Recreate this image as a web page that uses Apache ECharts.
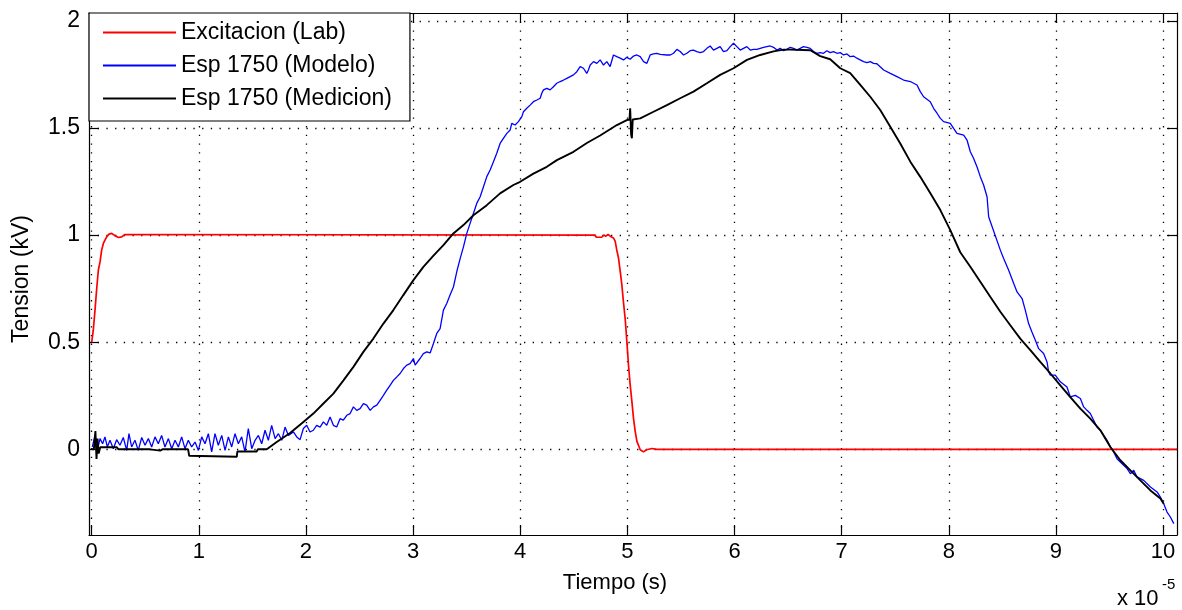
<!DOCTYPE html>
<html>
<head>
<meta charset="utf-8">
<title>Tension vs Tiempo</title>
<script src="https://cdn.jsdelivr.net/npm/echarts@6/dist/echarts.min.js"></script>
<style>
  html, body { margin: 0; padding: 0; background: #fff; }
  #chart { width: 1182px; height: 610px; }
</style>
</head>
<body>
<div id="chart"></div>
<script>
// tiempo en unidades de 1e-5 s, tension en kV
var xTicks = [0, 1, 2, 3, 4, 5, 6, 7, 8, 9, 10];
var yTicks = [0, 0.5, 1, 1.5, 2];
var seriesNames = ['Excitacion (Lab)', 'Esp 1750 (Modelo)', 'Esp 1750 (Medicion)'];

var excitacionLab = [
  [0, 0.499], [0.015, 0.556], [0.031, 0.65], [0.047, 0.751], [0.062, 0.836], [0.078, 0.875],
  [0.093, 0.93], [0.109, 0.961], [0.124, 0.977], [0.14, 0.992], [0.162, 1.005], [0.187, 1.008],
  [0.218, 0.997], [0.249, 0.989], [0.28, 0.992], [0.311, 1.003], [4.7, 1.0], [4.71, 0.99],
  [4.76, 0.99], [4.78, 1.0], [4.8, 0.995], [4.82, 1.003], [4.84, 0.995], [4.855, 0.998],
  [4.87, 0.987], [4.886, 0.972], [4.9, 0.933], [4.917, 0.894], [4.933, 0.832], [4.948, 0.77],
  [4.963, 0.69], [4.98, 0.606], [4.995, 0.505], [5.01, 0.396], [5.026, 0.302], [5.042, 0.224],
  [5.057, 0.146], [5.073, 0.084], [5.089, 0.037], [5.12, -0.002], [5.15, -0.012], [5.18, -0.002],
  [5.23, 0.004], [5.275, 0.0], [10.13, 0.0]
];

var modelo1750 = [
  [0.006, 0.011], [0.031, 0.065], [0.053, -0.005], [0.078, 0.05], [0.102, 0.026], [0.124, 0.058],
  [0.146, 0.011], [0.171, 0.042], [0.202, 0.003], [0.233, 0.045], [0.264, 0.019], [0.295, 0.055],
  [0.327, -0.005], [0.348, 0.073], [0.373, 0.011], [0.404, 0.042], [0.435, -0.005], [0.467, 0.055],
  [0.498, 0.019], [0.529, 0.05], [0.56, 0.011], [0.591, 0.058], [0.622, 0.026], [0.653, 0.065],
  [0.684, 0.011], [0.716, 0.05], [0.747, 0.003], [0.778, 0.042], [0.809, 0.011], [0.84, 0.058],
  [0.871, 0.003], [0.902, 0.042], [0.933, 0.011], [0.965, 0.034], [0.996, -0.005], [1.027, 0.058],
  [1.058, 0.026], [1.089, 0.073], [1.12, -0.012], [1.151, 0.073], [1.182, 0.019], [1.214, 0.065],
  [1.245, -0.005], [1.276, 0.058], [1.307, 0.011], [1.338, 0.073], [1.369, 0.026], [1.4, 0.058],
  [1.431, -0.012], [1.462, 0.097], [1.494, 0.003], [1.525, 0.042], [1.556, 0.065], [1.587, 0.026],
  [1.618, 0.089], [1.649, 0.042], [1.68, 0.112], [1.712, 0.05], [1.743, 0.073], [1.774, 0.042],
  [1.805, 0.104], [1.836, 0.065], [1.852, 0.073], [1.883, 0.081], [1.914, 0.058], [1.945, 0.045],
  [1.976, 0.097], [2.007, 0.112], [2.038, 0.081], [2.069, 0.089], [2.1, 0.112], [2.132, 0.104],
  [2.163, 0.128], [2.194, 0.112], [2.225, 0.151], [2.256, 0.112], [2.287, 0.104], [2.318, 0.143],
  [2.349, 0.136], [2.381, 0.159], [2.412, 0.167], [2.443, 0.198], [2.474, 0.182], [2.505, 0.19],
  [2.536, 0.213], [2.567, 0.206], [2.599, 0.182], [2.63, 0.198], [2.661, 0.206], [2.692, 0.229],
  [2.723, 0.252], [2.754, 0.276], [2.785, 0.299], [2.816, 0.322], [2.848, 0.338], [2.879, 0.354],
  [2.91, 0.377], [2.941, 0.393], [2.972, 0.4], [3.003, 0.424], [3.019, 0.393], [3.034, 0.385],
  [3.065, 0.424], [3.096, 0.447], [3.128, 0.455], [3.159, 0.45], [3.19, 0.494], [3.221, 0.541],
  [3.252, 0.564], [3.283, 0.65], [3.314, 0.681], [3.345, 0.72], [3.377, 0.759], [3.408, 0.83],
  [3.439, 0.89], [3.47, 0.945], [3.501, 1.008], [3.532, 1.055], [3.563, 1.101], [3.594, 1.148],
  [3.626, 1.179], [3.657, 1.226], [3.688, 1.273], [3.719, 1.304], [3.75, 1.343], [3.781, 1.382],
  [3.812, 1.428], [3.843, 1.452], [3.875, 1.475], [3.906, 1.491], [3.921, 1.522], [3.952, 1.514],
  [3.983, 1.53], [4.015, 1.553], [4.03, 1.576], [4.061, 1.592], [4.092, 1.607], [4.123, 1.623],
  [4.155, 1.631], [4.186, 1.639], [4.201, 1.662], [4.217, 1.678], [4.248, 1.685], [4.279, 1.678],
  [4.31, 1.693], [4.341, 1.709], [4.373, 1.717], [4.404, 1.724], [4.435, 1.732], [4.466, 1.74],
  [4.497, 1.748], [4.528, 1.763], [4.559, 1.787], [4.59, 1.779], [4.621, 1.755], [4.636, 1.771],
  [4.653, 1.794], [4.684, 1.81], [4.715, 1.802], [4.746, 1.818], [4.777, 1.794], [4.808, 1.81],
  [4.839, 1.787], [4.87, 1.841], [4.901, 1.833], [4.933, 1.826], [4.964, 1.818], [4.995, 1.83],
  [5.026, 1.821], [5.057, 1.836], [5.088, 1.841], [5.12, 1.833], [5.151, 1.81], [5.182, 1.802],
  [5.213, 1.841], [5.244, 1.846], [5.275, 1.849], [5.306, 1.844], [5.369, 1.841], [5.4, 1.841],
  [5.431, 1.849], [5.462, 1.867], [5.493, 1.857], [5.524, 1.841], [5.555, 1.849], [5.586, 1.861],
  [5.617, 1.864], [5.648, 1.857], [5.68, 1.852], [5.711, 1.857], [5.742, 1.872], [5.773, 1.883],
  [5.804, 1.864], [5.835, 1.872], [5.866, 1.88], [5.897, 1.857], [5.929, 1.861], [5.96, 1.88],
  [5.991, 1.896], [6.022, 1.88], [6.053, 1.864], [6.084, 1.872], [6.115, 1.88], [6.147, 1.864],
  [6.178, 1.867], [6.209, 1.867], [6.24, 1.872], [6.271, 1.877], [6.302, 1.88], [6.333, 1.883],
  [6.364, 1.877], [6.396, 1.864], [6.427, 1.872], [6.458, 1.861], [6.489, 1.867], [6.52, 1.877],
  [6.551, 1.872], [6.582, 1.864], [6.613, 1.872], [6.644, 1.88], [6.676, 1.877], [6.707, 1.872],
  [6.738, 1.857], [6.769, 1.849], [6.8, 1.852], [6.831, 1.849], [6.862, 1.861], [6.893, 1.852],
  [6.924, 1.857], [6.956, 1.849], [6.987, 1.852], [7.018, 1.841], [7.049, 1.846], [7.08, 1.833],
  [7.111, 1.836], [7.142, 1.826], [7.173, 1.818], [7.205, 1.81], [7.236, 1.805], [7.267, 1.81],
  [7.298, 1.802], [7.329, 1.8], [7.392, 1.771], [7.454, 1.755], [7.516, 1.74], [7.578, 1.724],
  [7.641, 1.717], [7.703, 1.701], [7.734, 1.67], [7.765, 1.646], [7.827, 1.623], [7.858, 1.592],
  [7.89, 1.569], [7.921, 1.545], [7.952, 1.53], [8.014, 1.522], [8.045, 1.498], [8.076, 1.475],
  [8.139, 1.467], [8.17, 1.444], [8.201, 1.389], [8.232, 1.358], [8.263, 1.319], [8.294, 1.273],
  [8.325, 1.234], [8.357, 1.179], [8.372, 1.086], [8.481, 0.93], [8.512, 0.891], [8.559, 0.836],
  [8.606, 0.774], [8.637, 0.735], [8.684, 0.704], [8.714, 0.65], [8.745, 0.587], [8.776, 0.548],
  [8.808, 0.509], [8.839, 0.47], [8.885, 0.447], [8.917, 0.408], [8.932, 0.361], [8.948, 0.346],
  [8.994, 0.346], [9.041, 0.315], [9.103, 0.291], [9.134, 0.245], [9.181, 0.252], [9.228, 0.237],
  [9.259, 0.198], [9.29, 0.182], [9.321, 0.167], [9.352, 0.136], [9.383, 0.104], [9.415, 0.089],
  [9.446, 0.065], [9.477, 0.042], [9.508, 0.011], [9.539, -0.012], [9.57, -0.044], [9.601, -0.059],
  [9.632, -0.075], [9.664, -0.09], [9.695, -0.114], [9.726, -0.098], [9.757, -0.129], [9.819, -0.145],
  [9.882, -0.176], [9.944, -0.199], [9.975, -0.223], [10.006, -0.254], [10.037, -0.293],
  [10.068, -0.316], [10.1, -0.347]
];

var medicion1750 = [
  [0, 0], [0.02, 0.0], [0.035, 0.085], [0.045, -0.045], [0.055, 0.05], [0.065, -0.02], [0.08, 0.01],
  [0.233, 0.01], [0.25, 0.0], [0.544, 0.0], [0.55, -0.006], [0.64, -0.006], [0.66, 0], [0.9, 0],
  [0.91, -0.03], [1.354, -0.035], [1.36, -0.01], [1.54, -0.01], [1.55, 0], [1.634, 0.0],
  [1.727, 0.034], [1.852, 0.076], [1.976, 0.128], [2.069, 0.167], [2.163, 0.214], [2.256, 0.26],
  [2.35, 0.322], [2.443, 0.385], [2.536, 0.455], [2.629, 0.517], [2.723, 0.587], [2.816, 0.65],
  [2.909, 0.72], [3.003, 0.79], [3.096, 0.852], [3.19, 0.904], [3.283, 0.953], [3.376, 1.008],
  [3.47, 1.047], [3.563, 1.093], [3.688, 1.14], [3.812, 1.195], [3.936, 1.234], [3.999, 1.249],
  [4.123, 1.287], [4.248, 1.319], [4.342, 1.35], [4.497, 1.389], [4.622, 1.43], [4.746, 1.465],
  [4.902, 1.514], [4.995, 1.537], [5.02, 1.54], [5.026, 1.592], [5.035, 1.47], [5.042, 1.452],
  [5.05, 1.54], [5.12, 1.545], [5.244, 1.576], [5.369, 1.607], [5.493, 1.639], [5.617, 1.67],
  [5.742, 1.709], [5.866, 1.748], [5.991, 1.779], [6.116, 1.818], [6.24, 1.841], [6.364, 1.858],
  [6.458, 1.866], [6.52, 1.866], [6.707, 1.863], [6.8, 1.836], [6.893, 1.821], [6.987, 1.779],
  [7.08, 1.756], [7.174, 1.701], [7.267, 1.646], [7.36, 1.584], [7.454, 1.506], [7.547, 1.428],
  [7.641, 1.343], [7.734, 1.272], [7.828, 1.195], [7.921, 1.117], [8.014, 1.023], [8.107, 0.92],
  [8.201, 0.852], [8.294, 0.782], [8.387, 0.712], [8.481, 0.642], [8.574, 0.579], [8.667, 0.517],
  [8.761, 0.463], [8.854, 0.408], [8.948, 0.354], [9.041, 0.299], [9.134, 0.244], [9.228, 0.19],
  [9.321, 0.143], [9.415, 0.089], [9.508, 0.011], [9.601, -0.051], [9.695, -0.098], [9.788, -0.145],
  [9.882, -0.192], [9.975, -0.23], [10.006, -0.254]
];

var FONT = '"Liberation Sans", Arial, sans-serif';
var dotted = { color: '#000', width: 1.3, type: [1.3, 7.4] };

function xAxisOf(pos, labels) {
  return {
    type: 'value', position: pos, min: -0.025, max: 10.13,
    axisLine: { show: true, onZero: false, lineStyle: { color: '#000', width: 1.2 } },
    axisTick: { show: true, inside: true, length: 10, customValues: xTicks, lineStyle: { color: '#000', width: 1.2 } },
    axisLabel: { show: labels, customValues: xTicks, color: '#000', fontSize: 22, fontFamily: FONT, margin: 6 },
    splitLine: { show: labels, lineStyle: dotted }
  };
}
function yAxisOf(pos, labels) {
  return {
    type: 'value', position: pos, min: -0.4, max: 2.037,
    axisLine: { show: true, onZero: false, lineStyle: { color: '#000', width: 1.2 } },
    axisTick: { show: true, inside: true, length: 10, customValues: yTicks, lineStyle: { color: '#000', width: 1.2 } },
    axisLabel: { show: labels, customValues: yTicks, color: '#000', fontSize: 23, fontFamily: FONT, margin: 9 },
    splitLine: { show: labels, lineStyle: dotted }
  };
}

var chart = echarts.init(document.getElementById('chart'));
chart.setOption({
  backgroundColor: '#fff',
  animation: false,
  grid: { left: 89, right: 5, top: 13, bottom: 75 },
  xAxis: [xAxisOf('bottom', true), xAxisOf('top', false)],
  yAxis: [yAxisOf('left', true), yAxisOf('right', false)],
  legend: {
    orient: 'vertical', left: 89, top: 13,
    data: seriesNames,
    icon: 'rect',
    backgroundColor: '#fff', borderColor: '#000', borderWidth: 1.2, borderRadius: 0,
    padding: [8, 18, 11, 14],
    itemWidth: 73, itemHeight: 2, itemGap: 10,
    textStyle: { color: '#000', fontSize: 23, fontFamily: FONT }
  },
  graphic: [
    { type: 'text', x: 22, y: 279, rotation: Math.PI / 2,
      style: { text: 'Tension (kV)', font: '23px ' + FONT, fill: '#000', align: 'center', verticalAlign: 'middle' } },
    { type: 'text', x: 615, y: 583,
      style: { text: 'Tiempo (s)', font: '22px ' + FONT, fill: '#000', align: 'center', verticalAlign: 'middle' } },
    { type: 'text', x: 1117, y: 599,
      style: { text: 'x 10', font: '22px ' + FONT, fill: '#000', align: 'left', verticalAlign: 'middle' } },
    { type: 'text', x: 1162, y: 585,
      style: { text: '-5', font: '15px ' + FONT, fill: '#000', align: 'left', verticalAlign: 'middle' } }
  ],
  series: [
    { name: seriesNames[0], type: 'line', data: excitacionLab, symbol: 'none', lineStyle: { color: '#ff0000', width: 1.7 }, itemStyle: { color: '#ff0000' } },
    { name: seriesNames[1], type: 'line', data: modelo1750, symbol: 'none', lineStyle: { color: '#0000ff', width: 1.3 }, itemStyle: { color: '#0000ff' } },
    { name: seriesNames[2], type: 'line', data: medicion1750, symbol: 'none', lineStyle: { color: '#000', width: 1.9 }, itemStyle: { color: '#000' } }
  ]
});
</script>
</body>
</html>
